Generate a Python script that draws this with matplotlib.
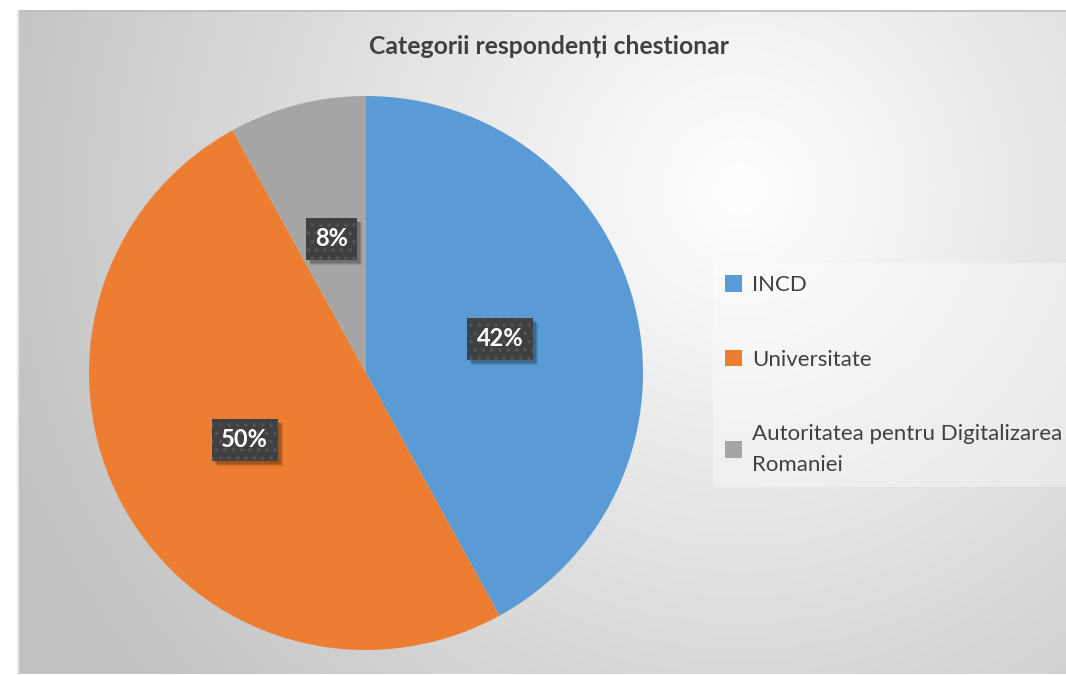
import numpy as np
import matplotlib
matplotlib.use("Agg")
import matplotlib.pyplot as plt
from matplotlib.patches import Rectangle

categories = ["INCD", "Universitate", "Autoritatea pentru Digitalizarea\nRomaniei"]
values = [42, 50, 8]
colors = ["#5B9BD5", "#ED7D31", "#A5A5A5"]
title = "Categorii respondenți chestionar"

W, H = 1066, 675
fig = plt.figure(figsize=(W / 100, H / 100), dpi=100)
fig.patch.set_facecolor("white")

# chart area with radial gradient background
x0, y0 = 17, 10
bg = fig.add_axes([x0 / W, 0, (W - x0) / W, (H - y0) / H])
bg.set_axis_off()
yy, xx = np.mgrid[0:H - y0, 0:W - x0]
cx, cy = 740 - x0, 190 - y0
d = np.sqrt((xx - cx) ** 2 + (yy - cy) ** 2) / 780.0
d = np.clip(d, 0, 1)
v = 1.0 - 0.24 * d ** 1.0
img = np.dstack([v, v, v])
bg.imshow(img, aspect="auto", interpolation="bilinear")
bg.plot([0, W - x0], [0.5, 0.5], color="#bdbdbd", lw=1.2)
bg.plot([0.5, 0.5], [0, H - y0], color="#e6e6e6", lw=1.5)
bg.set_xlim(0, W - x0)
bg.set_ylim(H - y0, 0)

fig.text(549 / W, 1 - 47 / H, title, ha="center", va="center",
         fontsize=17.8, fontweight="bold", color="#404040", family="Lato")

pcx, pcy, r = 366, 373, 277
ax = fig.add_axes([(pcx - r) / W, (H - pcy - r) / H, 2 * r / W, 2 * r / H])
wedges, texts, autotexts = ax.pie(
    values, colors=colors, startangle=90, counterclock=False,
    autopct="%1.0f%%", pctdistance=0.5, radius=1.0,
    wedgeprops=dict(linewidth=0),
    textprops=dict(color="white", fontsize=17, fontweight="bold", family="Lato"))
ax.set_xlim(-1, 1)
ax.set_ylim(-1, 1)
ax.set_aspect("auto")

plt.rcParams["hatch.linewidth"] = 1.6
for t in autotexts:
    t.set_zorder(5)
    t.set_bbox(dict(boxstyle="square,pad=0.4", facecolor="#404040",
                    edgecolor="#525252", linewidth=0, hatch=".."))

leg = fig.legend(wedges, categories, loc="upper left",
                 bbox_to_anchor=(713 / W, 1 - 263 / H),
                 frameon=True, fancybox=False, borderaxespad=0,
                 handlelength=0.75, handleheight=0.75, handletextpad=0.45,
                 labelspacing=2.45, borderpad=0.55,
                 prop=dict(family="Lato", size=16))
leg.get_frame().set_facecolor("white")
leg.get_frame().set_alpha(0.35)
leg.get_frame().set_linewidth(0)
for t in leg.get_texts():
    t.set_color("#404040")
    t.set_linespacing(1.65)

# soft drop shadows behind the data-label boxes
fig.canvas.draw()
for t in autotexts:
    ext = t.get_bbox_patch().get_window_extent()
    for dx, a in [(5, 0.10), (4, 0.12), (3, 0.14)]:
        ax.add_patch(Rectangle((ext.x0 + dx, ext.y0 - dx), ext.width, ext.height,
                               transform=None, facecolor="black", alpha=a,
                               linewidth=0, zorder=4))

fig.savefig("out.png", dpi=100)
